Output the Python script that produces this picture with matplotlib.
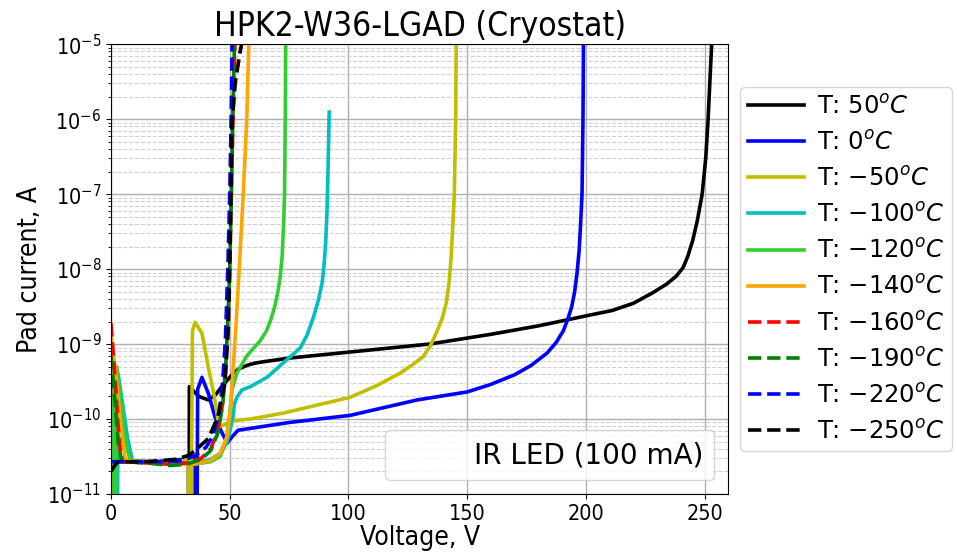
import matplotlib
matplotlib.use("Agg")
import matplotlib.pyplot as plt

# ----------------------------------------------------------
# IV curves, pad current vs bias voltage, one per temperature
# (1e-13 marks points where the reading was zero / negative)
# ----------------------------------------------------------
v_p50 = [0, 1.5, 3, 10, 20, 28, 32.6, 32.8, 33.0, 34, 37, 41, 44, 47, 50, 52, 54, 56, 58, 61,
         64, 75, 100, 134, 160, 180, 192, 202, 211, 220, 228, 234, 238, 241, 243, 245, 247,
         249, 250.5, 251.5, 253]
i_p50 = [2e-11, 2.4e-11, 2.7e-11, 2.7e-11, 2.7e-11, 2.8e-11, 3e-11, 1e-13, 2.7e-10, 2.5e-10,
         2e-10, 1.8e-10, 2.1e-10, 2.8e-10, 3.6e-10, 4.2e-10, 4.7e-10, 5.0e-10, 5.3e-10,
         5.6e-10, 5.8e-10, 6.5e-10, 7.8e-10, 1.0e-9, 1.35e-9, 1.75e-9, 2.1e-9, 2.45e-9,
         2.8e-9, 3.5e-9, 4.8e-9, 6.3e-9, 8e-9, 1.05e-8, 1.5e-8, 2.4e-8, 4.5e-8, 1e-7, 3e-7,
         1e-6, 1e-5]

v_0 = [0, 10, 20, 30, 35.4, 35.6, 36.0, 36.5, 38.3, 41, 43.8, 46.8, 49, 51, 53.5, 58.6, 75,
       100.7, 129, 150, 160, 170, 177, 183.7, 187.5, 190.5, 192.5, 194, 195.3, 196.3, 197.2,
       197.8, 198.4, 198.8, 199]
i_0 = [2.7e-11, 2.7e-11, 2.7e-11, 2.9e-11, 3e-11, 1e-13, 1e-13, 2.5e-10, 3.6e-10, 2.2e-10,
       1.07e-10, 6.5e-11, 4.8e-11, 5.8e-11, 7.1e-11, 7.5e-11, 9e-11, 1.12e-10, 1.8e-10,
       2.3e-10, 2.9e-10, 3.9e-10, 5.2e-10, 7.6e-10, 1.05e-9, 1.5e-9, 2.2e-9, 3.1e-9, 5e-9,
       8.9e-9, 1.8e-8, 4e-8, 1e-7, 1e-6, 1e-5]

v_m50 = [0, 10, 20, 30, 32.6, 32.8, 33.4, 34.3, 35.4, 38.3, 41, 43.8, 45, 46, 48, 51, 58.6,
         72.5, 100.7, 112, 121.8, 127, 131.5, 134.5, 137, 139.5, 141.2, 142.5, 143.3, 144,
         144.6, 145.2, 145.4]
i_m50 = [2.7e-11, 2.7e-11, 2.6e-11, 2.8e-11, 3e-11, 1e-13, 1e-13, 1.5e-9, 1.95e-9, 1.4e-9,
         4.9e-10, 1.8e-10, 1e-10, 8e-11, 8.5e-11, 9.5e-11, 1e-10, 1.2e-10, 1.95e-10, 2.8e-10,
         4.1e-10, 5.3e-10, 6.8e-10, 9.5e-10, 1.4e-9, 2.2e-9, 3.5e-9, 7e-9, 1.5e-8, 4e-8,
         1e-7, 1e-6, 1e-5]

v_m100 = [0, 0.8, 1.5, 2.5, 3, 5, 7, 9, 15, 25, 35, 42, 46, 49, 50.5, 51.4, 52, 53, 55.2,
          58.6, 65.7, 72.5, 76, 79.6, 82.5, 85.3, 87.3, 88.9, 89.7, 90.4, 91, 91.4, 91.9]
i_m100 = [1e-9, 6e-10, 1e-13, 1e-13, 4e-10, 1.5e-10, 5.5e-11, 2.8e-11, 2.7e-11, 2.6e-11,
          2.6e-11, 2.9e-11, 3.5e-11, 5e-11, 8e-11, 1.07e-10, 1.6e-10, 1.95e-10, 2.45e-10,
          2.7e-10, 3.6e-10, 5.6e-10, 7e-10, 8.8e-10, 1.3e-9, 2.3e-9, 3.8e-9, 6.5e-9, 1.1e-8,
          2.2e-8, 6e-8, 2e-7, 1.24e-6]

v_m120 = [0, 0.6, 1.2, 2, 2.4, 4, 6, 8, 15, 25, 35, 42, 46, 48.5, 50, 51, 53, 57, 60, 62.8,
          65.5, 67.5, 69, 70.3, 71.3, 72.1, 72.7, 73.1, 73.4, 73.6]
i_m120 = [1.2e-9, 5e-10, 1e-13, 1e-13, 5e-10, 1.8e-10, 5.5e-11, 2.8e-11, 2.7e-11, 2.5e-11,
          2.5e-11, 2.7e-11, 3.2e-11, 5e-11, 1.2e-10, 2.5e-10, 4.1e-10, 6.8e-10, 8.8e-10,
          1.1e-9, 1.5e-9, 2.2e-9, 3.2e-9, 5e-9, 8e-9, 1.5e-8, 4e-8, 1e-7, 1e-6, 1e-5]

v_m140 = [0, 2, 4, 6, 15, 25, 35, 42, 46, 49, 50.5, 51.5, 52.5, 54, 55.7, 57.2, 58]
i_m140 = [1.4e-9, 4e-10, 9e-11, 2.8e-11, 2.7e-11, 2.5e-11, 2.5e-11, 2.8e-11, 3.5e-11, 6e-11,
          1.5e-10, 5e-10, 1.5e-9, 1e-8, 1e-7, 1e-6, 1e-5]

v_m160 = [0, 1, 2, 3, 4, 5, 15, 25, 32, 38, 42, 45, 47, 48.3, 49.2, 50, 50.7, 51.4, 52.2]
i_m160 = [1.9e-9, 7e-10, 2.5e-10, 8e-11, 3.5e-11, 2.7e-11, 2.6e-11, 2.5e-11, 2.6e-11, 3e-11,
          4e-11, 7e-11, 1.6e-10, 5e-10, 2e-9, 1e-8, 1e-7, 1e-6, 1e-5]

v_m190 = [0, 1.5, 3, 4.5, 15, 25, 32, 38, 42, 45, 47, 48.3, 49.2, 50, 50.7, 51.3, 52]
i_m190 = [7e-10, 2e-10, 5e-11, 2.7e-11, 2.6e-11, 2.4e-11, 2.5e-11, 2.9e-11, 3.8e-11, 6.5e-11,
          1.5e-10, 5e-10, 2e-9, 1e-8, 1e-7, 1e-6, 1e-5]

v_m220 = [0, 5, 15, 25, 30, 35, 40, 43, 45.5, 47, 48.2, 49.2, 50, 50.6, 51]
i_m220 = [2.7e-11, 2.7e-11, 2.7e-11, 2.7e-11, 2.8e-11, 3.2e-11, 4.2e-11, 6e-11, 1.2e-10,
          3e-10, 1.2e-9, 1e-8, 1e-7, 1e-6, 1e-5]

v_m250 = [0, 1.5, 3, 15, 27, 33, 38, 41, 45, 48, 49.3, 50, 50.5, 51, 52.3, 54.4, 55]
i_m250 = [2e-11, 2.4e-11, 2.7e-11, 2.7e-11, 2.9e-11, 3.3e-11, 4.5e-11, 5.5e-11, 1.07e-10,
          3e-10, 1.4e-9, 1e-8, 1e-7, 9e-7, 3e-6, 8e-6, 1e-5]

temps = ["50", "0", "-50", "-100", "-120", "-140", "-160", "-190", "-220", "-250"]

curves = [
    (v_p50, i_p50, "k", "-"),
    (v_0, i_0, "b", "-"),
    (v_m50, i_m50, "y", "-"),
    (v_m100, i_m100, "c", "-"),
    (v_m120, i_m120, "limegreen", "-"),
    (v_m140, i_m140, "orange", "-"),
    (v_m160, i_m160, "r", "--"),
    (v_m190, i_m190, "g", "--"),
    (v_m220, i_m220, "b", "--"),
    (v_m250, i_m250, "k", "--"),
]

fig = plt.figure(figsize=(9.57, 5.52), dpi=100)
ax = fig.add_axes([0.116, 0.105, 0.645, 0.815])

for (v, i, col, ls), t in zip(curves, temps):
    ax.plot(v, i, color=col, linestyle=ls, linewidth=2.6, label=rf"T: ${t}^oC$")

ax.set_yscale("log")
ax.set_xlim(0, 260)
ax.set_ylim(1e-11, 1e-5)

ax.grid(True, which="major", color="#b0b0b0", linewidth=1.0)
ax.grid(True, which="minor", color="#d0d0d0", linestyle="--", linewidth=0.8)

ax.set_title("HPK2-W36-LGAD (Cryostat)", fontsize=24, fontstretch="condensed")
ax.set_xlabel("Voltage, V", fontsize=19, fontstretch="condensed", labelpad=1)
ax.set_ylabel("Pad current, A", fontsize=19, fontstretch="condensed", labelpad=3)
ax.tick_params(axis="both", which="major", labelsize=15.5)
for lab in ax.get_xticklabels() + ax.get_yticklabels():
    lab.set_fontstretch("condensed")

leg = ax.legend(fontsize=17.5, loc="center left", bbox_to_anchor=(1.0, 0.5),
                handlelength=2.3, handletextpad=0.55, borderpad=0.3)
ax.add_artist(leg)

# note about the illumination, as a handle-less legend entry
note, = ax.plot([], [], " ", label="IR LED (100 mA)")
ax.legend(handles=[note], fontsize=20, loc="lower right")

fig.savefig("out.png", dpi=100)
